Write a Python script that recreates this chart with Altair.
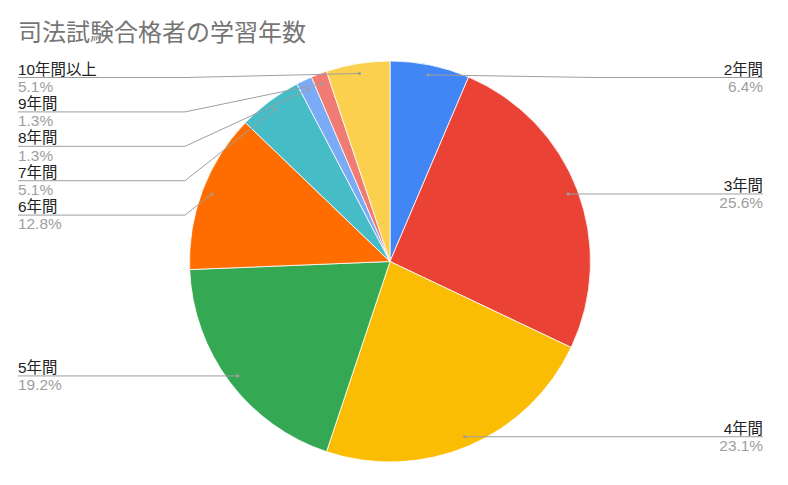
import altair as alt
import numpy as np
import pandas as pd

# ---- data ----
categories = ["2年間", "3年間", "4年間", "5年間", "6年間", "7年間", "8年間", "9年間", "10年間以上"]
counts = [5, 20, 18, 15, 10, 4, 1, 1, 4]
colors = ["#4285F4", "#EA4335", "#FBBC04", "#34A853", "#FF6D01",
          "#46BDC6", "#7BAAF7", "#F07B72", "#FCD04F"]
title_text = "司法試験合格者の学習年数"

# ---- layout (page pixel coordinates) ----
PAGE_W, PAGE_H, MARGIN = 788, 485, 8
PAD_TOP = 50
W = PAGE_W - 2 * MARGIN
H = PAGE_H - 2 * MARGIN - PAD_TOP
CX, CY = 390.0, 261.5
R = 200.5
R_ANCHOR = R * 0.95
ELBOW = 205.0
TEXT_LEFT, TEXT_RIGHT = 18.0, 763.0
TOP_MIN, GAP = 77.5, 34.4
FONT = "Liberation Sans, Noto Sans CJK JP, sans-serif"

df = pd.DataFrame({"cat": categories, "count": counts})
df["idx"] = np.arange(len(df))
total = df["count"].sum()
frac = df["count"] / total
mid = frac.cumsum() - frac / 2
ang = mid * 2 * np.pi
df["ax"] = CX + R_ANCHOR * np.sin(ang)
df["ay"] = CY - R_ANCHOR * np.cos(ang)
df["side"] = np.where(np.sin(ang) > 0, "right", "left")
df["pct"] = [f"{v:.1f}%" for v in frac * 100]

ly = {}
for side in ["left", "right"]:
    sub = df[df["side"] == side].sort_values("ay")
    prev = -1e9
    for i, row in sub.iterrows():
        y = max(row["ay"], TOP_MIN, prev + GAP)
        ly[i] = y
        prev = y
df["ly"] = pd.Series(ly)
df["ex"] = np.where(df["side"] == "right", CX + ELBOW, CX - ELBOW)
df["tx"] = np.where(df["side"] == "right", TEXT_RIGHT, TEXT_LEFT)

xs = alt.Scale(domain=[MARGIN, PAGE_W - MARGIN], nice=False, zero=False)
ys = alt.Scale(domain=[MARGIN + PAD_TOP, PAGE_H - MARGIN], nice=False, zero=False, reverse=True)

base = alt.Chart(df)

pie = base.mark_arc(outerRadius=R, stroke="white", strokeWidth=0.8).encode(
    theta=alt.Theta("count:Q", stack=True),
    color=alt.Color("cat:N", scale=alt.Scale(domain=categories, range=colors), legend=None),
    order=alt.Order("idx:Q"),
    x=alt.value(CX - MARGIN),
    y=alt.value(CY - MARGIN - PAD_TOP),
)

seg1 = base.mark_rule(color="#9e9e9e", strokeWidth=1).encode(
    x=alt.X("ax:Q", scale=xs, axis=None),
    y=alt.Y("ay:Q", scale=ys, axis=None),
    x2="ex:Q", y2="ly:Q",
)
seg2 = base.mark_rule(color="#9e9e9e", strokeWidth=1).encode(
    x=alt.X("ex:Q", scale=xs, axis=None),
    y=alt.Y("ly:Q", scale=ys, axis=None),
    x2="tx:Q", y2="ly:Q",
)
dots = base.mark_circle(size=10, color="#9e9e9e", opacity=1).encode(
    x=alt.X("ax:Q", scale=xs, axis=None),
    y=alt.Y("ay:Q", scale=ys, axis=None),
)

layers = [pie, seg1, seg2, dots]
for side, align in [("left", "left"), ("right", "right")]:
    names = base.transform_filter(alt.datum.side == side).mark_text(
        align=align, baseline="alphabetic", dy=-3, fontSize=15.4, font=FONT, color="#222222"
    ).encode(
        x=alt.X("tx:Q", scale=xs, axis=None),
        y=alt.Y("ly:Q", scale=ys, axis=None),
        text="cat:N",
    )
    pcts = base.transform_filter(alt.datum.side == side).mark_text(
        align=align, baseline="alphabetic", dy=14.2, fontSize=15.4, font=FONT, color="#9e9e9e"
    ).encode(
        x=alt.X("tx:Q", scale=xs, axis=None),
        y=alt.Y("ly:Q", scale=ys, axis=None),
        text="pct:N",
    )
    layers += [names, pcts]

chart = alt.layer(*layers).properties(
    width=W,
    height=H,
    autosize=alt.AutoSizeParams(type="none"),
    padding={"left": 0, "right": 0, "top": PAD_TOP, "bottom": 0},
    title=alt.Title(
        title_text, anchor="start", frame="group", dx=10, dy=25, offset=18,
        baseline="alphabetic", fontSize=24, fontWeight="normal",
        color="#757575", font=FONT,
    ),
).configure_view(stroke=None)

chart.save("out.html", embed_options={"renderer": "svg", "actions": False})
